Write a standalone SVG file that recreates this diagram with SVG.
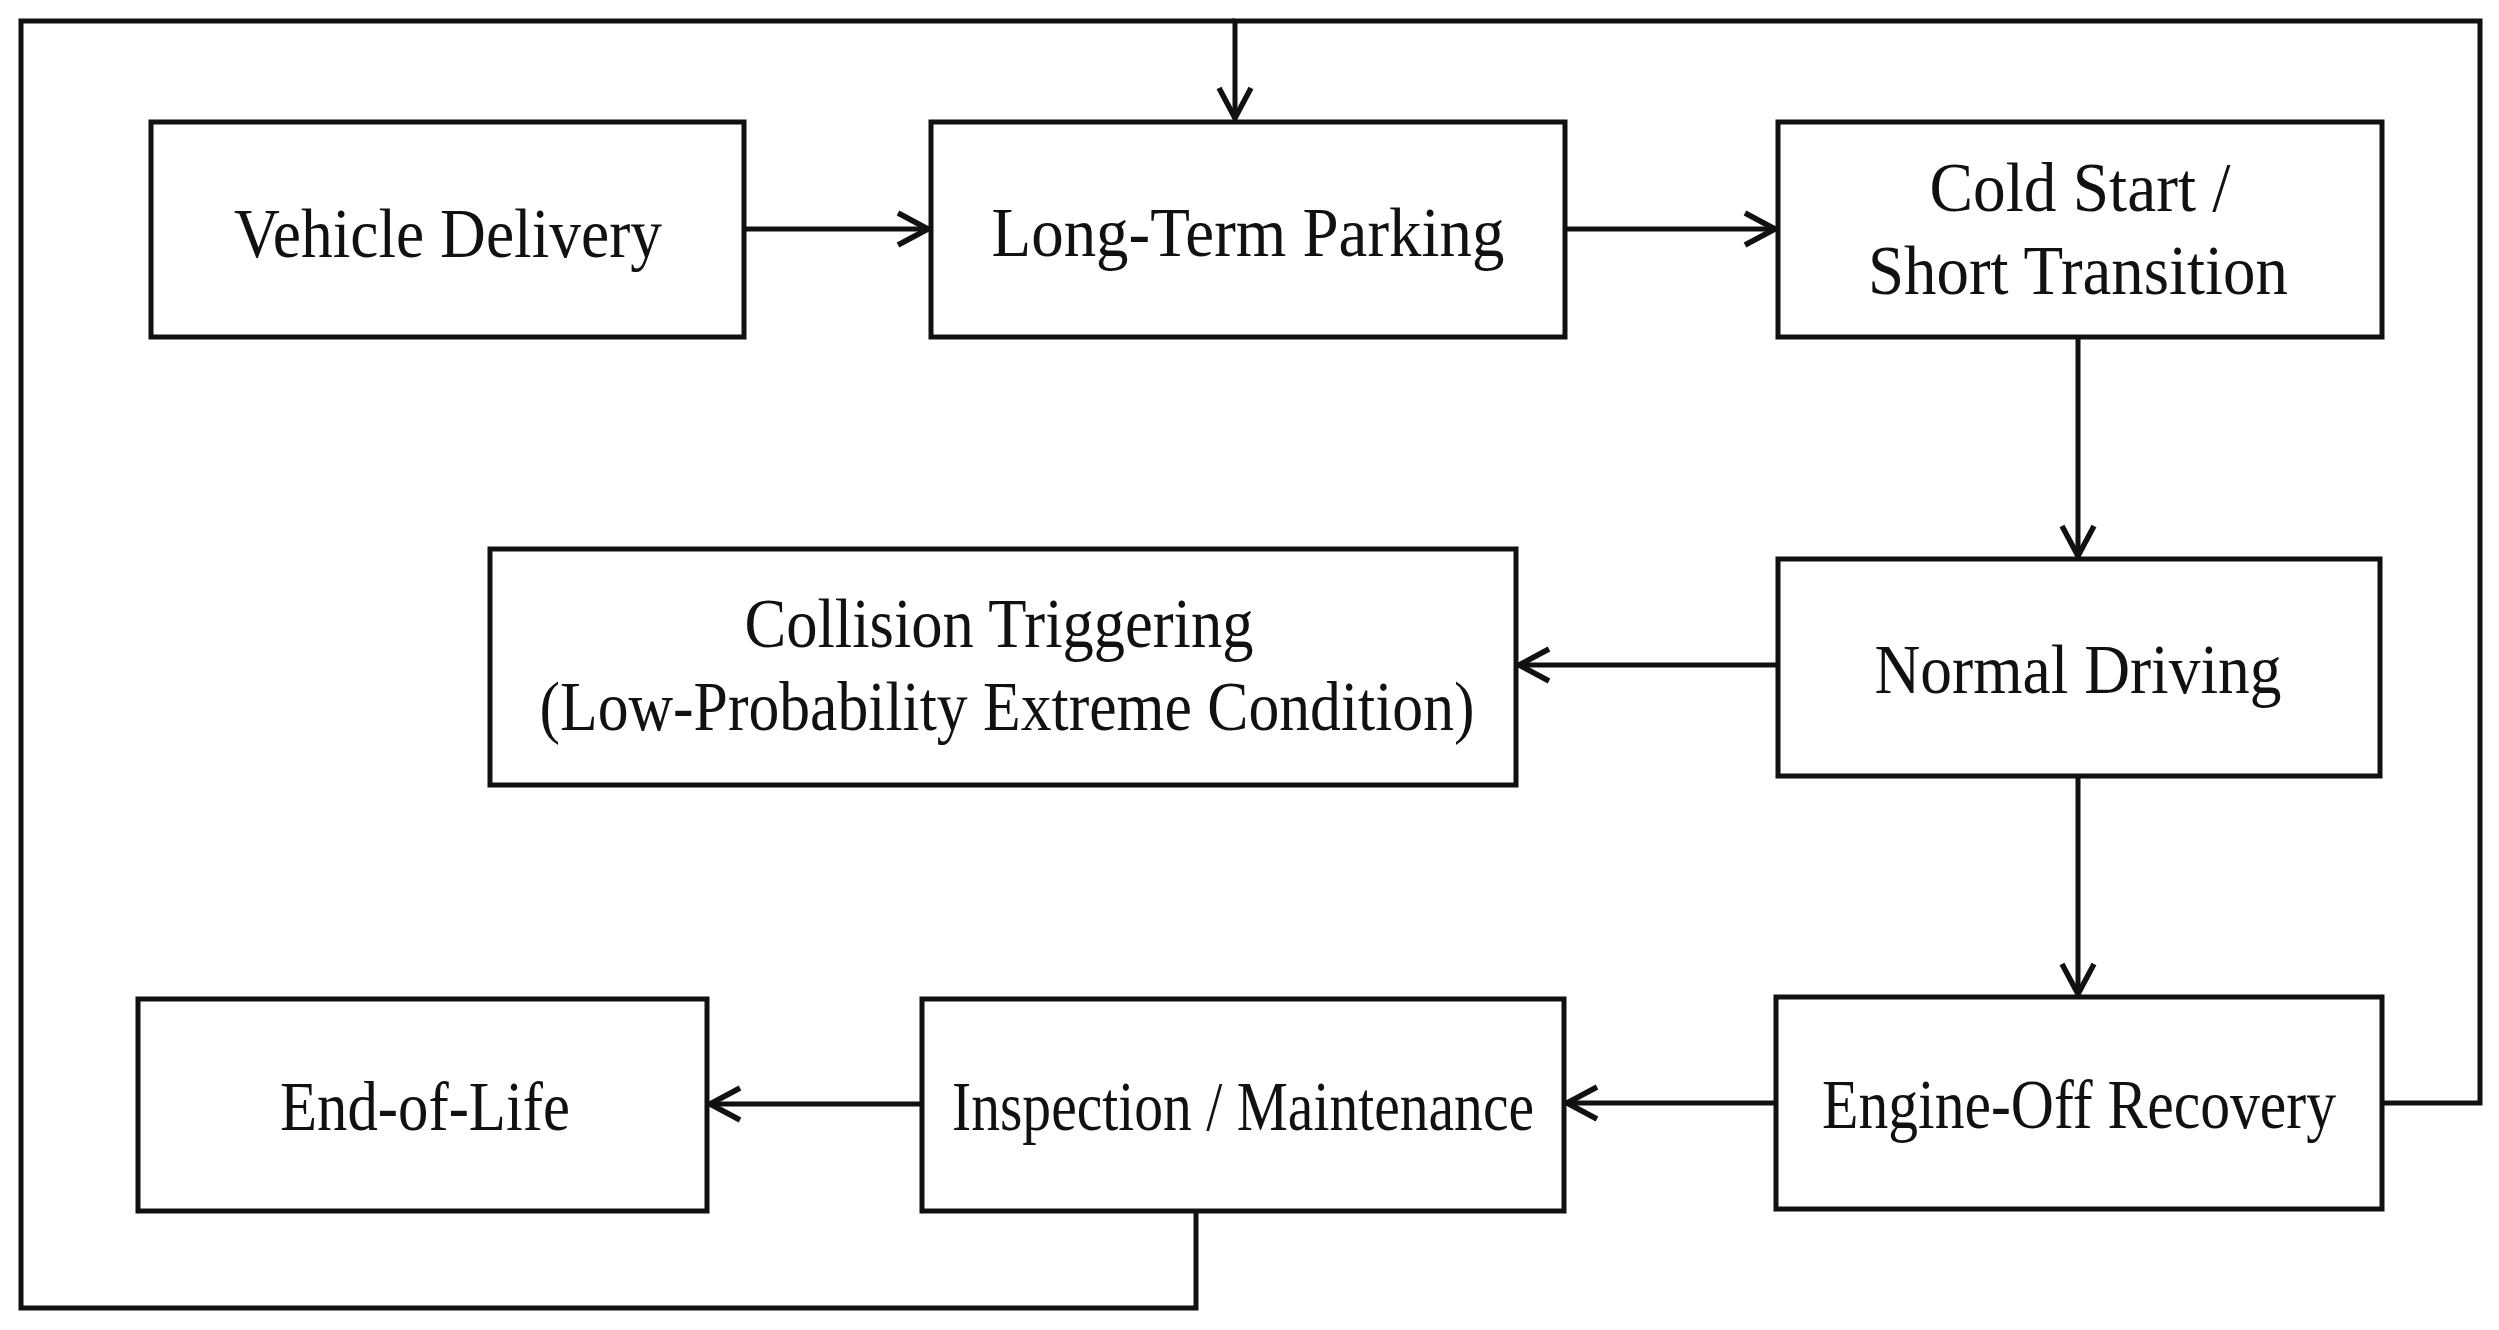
<svg xmlns="http://www.w3.org/2000/svg" width="2499" height="1330" viewBox="0 0 2499 1330">
<style>
.box{fill:#ffffff;stroke:#111111;stroke-width:5}
.lbl{font-family:"Liberation Serif","Times New Roman",serif;font-size:70px;fill:#111111;text-anchor:middle}
.con{fill:none;stroke:#111111;stroke-width:5;stroke-linejoin:miter}
</style>
<defs>
<marker id="arr" viewBox="-36 -20 40 40" markerWidth="40" markerHeight="40" refX="1" refY="0" orient="auto" markerUnits="userSpaceOnUse">
<path d="M-30,-16 L0,0 L-30,16" fill="none" stroke="#111111" stroke-width="5.5"/>
</marker>
</defs>
<rect width="2499" height="1330" fill="#ffffff"/>
<g id="connectors">
<path class="con" d="M744,229 L929,229" marker-end="url(#arr)"/>
<path class="con" d="M1565,229 L1776,229" marker-end="url(#arr)"/>
<path class="con" d="M2078,337 L2078,557" marker-end="url(#arr)"/>
<path class="con" d="M1778,665 L1518,665" marker-end="url(#arr)"/>
<path class="con" d="M2078,776 L2078,995" marker-end="url(#arr)"/>
<path class="con" d="M1776,1103 L1566,1103" marker-end="url(#arr)"/>
<path class="con" d="M922,1104 L709,1104" marker-end="url(#arr)"/>
<path class="con" d="M2382,1103 L2480,1103 L2480,21 L1235,21 L1235,119" marker-end="url(#arr)"/>
<path class="con" d="M1196,1211 L1196,1308 L21,1308 L21,21 L1235,21"/>
</g>
<g id="vehicle-delivery">
<rect class="box" x="151" y="122" width="593" height="215"/>
<text class="lbl" x="448" y="257" textLength="428" lengthAdjust="spacingAndGlyphs">Vehicle Delivery</text>
</g>
<g id="long-term-parking">
<rect class="box" x="931" y="122" width="634" height="215"/>
<text class="lbl" x="1248" y="256" textLength="513" lengthAdjust="spacingAndGlyphs">Long-Term Parking</text>
</g>
<g id="cold-start">
<rect class="box" x="1778" y="122" width="604" height="215"/>
<text class="lbl" x="2080" y="211" textLength="301" lengthAdjust="spacingAndGlyphs">Cold Start /</text>
<text class="lbl" x="2078" y="294" textLength="420" lengthAdjust="spacingAndGlyphs">Short Transition</text>
</g>
<g id="normal-driving">
<rect class="box" x="1778" y="559" width="602" height="217"/>
<text class="lbl" x="2078" y="693" textLength="407" lengthAdjust="spacingAndGlyphs">Normal Driving</text>
</g>
<g id="collision-triggering">
<rect class="box" x="490" y="549" width="1026" height="236"/>
<text class="lbl" x="999" y="647" textLength="509" lengthAdjust="spacingAndGlyphs">Collision Triggering</text>
<text class="lbl" x="1007" y="730" textLength="935" lengthAdjust="spacingAndGlyphs">(Low-Probability Extreme Condition)</text>
</g>
<g id="engine-off-recovery">
<rect class="box" x="1776" y="997" width="606" height="212"/>
<text class="lbl" x="2079" y="1128" textLength="514" lengthAdjust="spacingAndGlyphs">Engine-Off Recovery</text>
</g>
<g id="inspection-maintenance">
<rect class="box" x="922" y="999" width="642" height="212"/>
<text class="lbl" x="1243" y="1130" textLength="582" lengthAdjust="spacingAndGlyphs">Inspection / Maintenance</text>
</g>
<g id="end-of-life">
<rect class="box" x="138" y="999" width="569" height="212"/>
<text class="lbl" x="425" y="1130" textLength="290" lengthAdjust="spacingAndGlyphs">End-of-Life</text>
</g>
</svg>
